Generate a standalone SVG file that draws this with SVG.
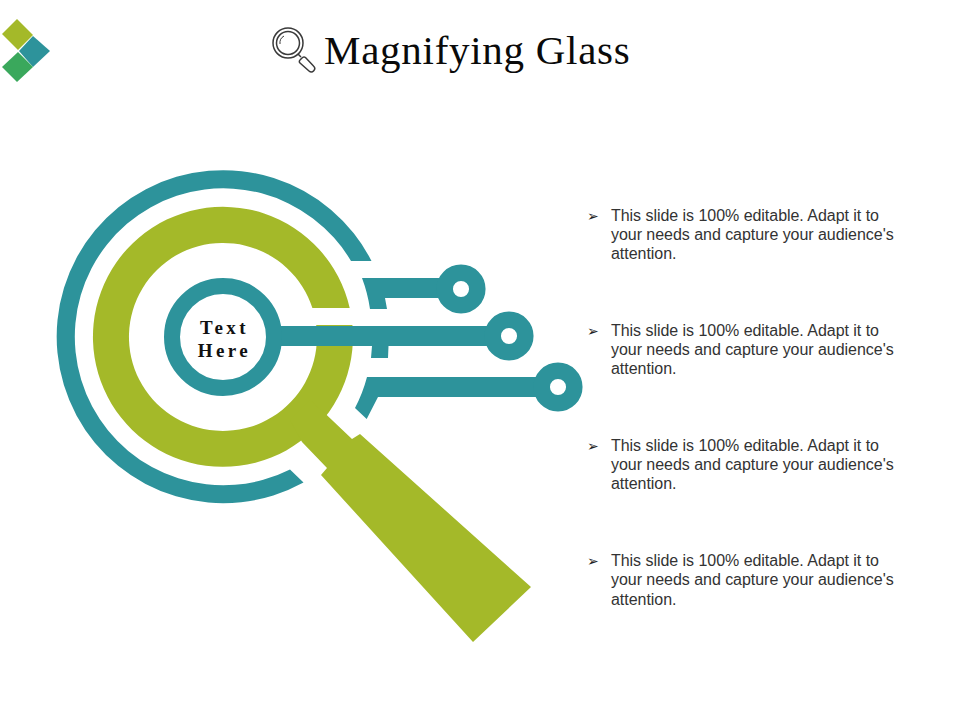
<svg xmlns="http://www.w3.org/2000/svg" width="960" height="720" viewBox="0 0 960 720">
<style>
.teal{fill:#2d939b}
.olive{fill:#a4b929}
.title{font-family:"Liberation Serif",serif;font-size:41px;letter-spacing:.72px;fill:#0a0a0a}
.hub{font-family:"Liberation Serif",serif;font-size:19px;font-weight:bold;letter-spacing:3.4px;fill:#111;text-anchor:middle}
.body{font-family:"Liberation Sans",Arial,sans-serif;font-size:16px;letter-spacing:-.04px;fill:#333}
.bullet{font-family:"DejaVu Sans",sans-serif;font-size:14px;fill:#222}
.line{fill:none;stroke:#3a3a3a}
</style>
<rect width="960" height="720" fill="#fff"/>
<g id="logo">
<polygon points="17,19 33,35 18,50 2,34" fill="#a4b929"/>
<polygon points="33,36 50,51 33,67 19,51" fill="#2d939b"/>
<polygon points="18,52 33,67 17,82 2,67" fill="#3aa85c"/>
</g>
<g id="title-icon">
<circle class="line" cx="288" cy="43" r="15" stroke-width="1.5"/>
<circle class="line" cx="288" cy="43" r="11.500" stroke-width="1.5"/>
<path class="line" d="M280 44A8 8 0 0 1 284 36" stroke-width="1"/>
<path class="line" d="M298 54L301 57" stroke-width="1.5"/>
<path class="line" d="M300 60L302.500 57.500A2.500 2.500 0 0 1 305.500 57.500L313.500 66A3 3 0 0 1 309 71L300 63A2 2 0 0 1 300 60Z" stroke-width="1.5"/>
</g>
<text class="title" x="324" y="64">Magnifying Glass</text>
<g id="magnifier">
<path class="olive" d="M352.400 325A130 130 0 1 1 349.700 308L312.400 308A94 94 0 1 0 316.200 325Z"/>
<polygon class="olive" points="326.700,415 352,439 360,434 531,587 473,642 321,475 327,468 302,442 290,420 310,400"/>
</g>
<g id="connectors">
<path class="teal" d="M371.500 261L351 261A148.500 148.500 0 1 0 290 469.500L303.500 482.500A166.500 166.500 0 1 1 371.500 261Z"/>
<path class="teal" d="M362 278L440 278L440 298L385 298L387 309L370 309A148 148 0 0 0 362 278Z"/>
<path class="teal" d="M280 326L490 326L490 346L388.500 346L388 358L371 358L372 346L280 346Z"/>
<path class="teal" d="M367 377L540 377L540 397L378 397L366.700 419L355 408A148 148 0 0 0 367 377Z"/>
</g>
<g id="pin-1"><circle cx="461" cy="289" r="16.300" fill="#fff" stroke="#2d939b" stroke-width="16.500"/></g>
<g id="pin-2"><circle cx="509" cy="336" r="16.300" fill="#fff" stroke="#2d939b" stroke-width="16.500"/></g>
<g id="pin-3"><circle cx="558" cy="387" r="16.300" fill="#fff" stroke="#2d939b" stroke-width="16.500"/></g>
<g id="hub">
<circle cx="223" cy="337" r="51" fill="#fff" stroke="#2d939b" stroke-width="16"/>
<text class="hub" x="224.500" y="334">Text</text>
<text class="hub" x="224.500" y="357">Here</text>
</g>
<g id="item-1">
<text class="bullet" x="587" y="221">➢</text>
<text class="body" x="611" y="220.500">This slide is 100% editable. Adapt it to</text>
<text class="body" x="611" y="240">your needs and capture your audience's</text>
<text class="body" x="611" y="259">attention.</text>
</g>
<g id="item-2">
<text class="bullet" x="587" y="336">➢</text>
<text class="body" x="611" y="335.500">This slide is 100% editable. Adapt it to</text>
<text class="body" x="611" y="355">your needs and capture your audience's</text>
<text class="body" x="611" y="374">attention.</text>
</g>
<g id="item-3">
<text class="bullet" x="587" y="451">➢</text>
<text class="body" x="611" y="450.500">This slide is 100% editable. Adapt it to</text>
<text class="body" x="611" y="470">your needs and capture your audience's</text>
<text class="body" x="611" y="489">attention.</text>
</g>
<g id="item-4">
<text class="bullet" x="587" y="566">➢</text>
<text class="body" x="611" y="565.500">This slide is 100% editable. Adapt it to</text>
<text class="body" x="611" y="585">your needs and capture your audience's</text>
<text class="body" x="611" y="605">attention.</text>
</g>
</svg>
